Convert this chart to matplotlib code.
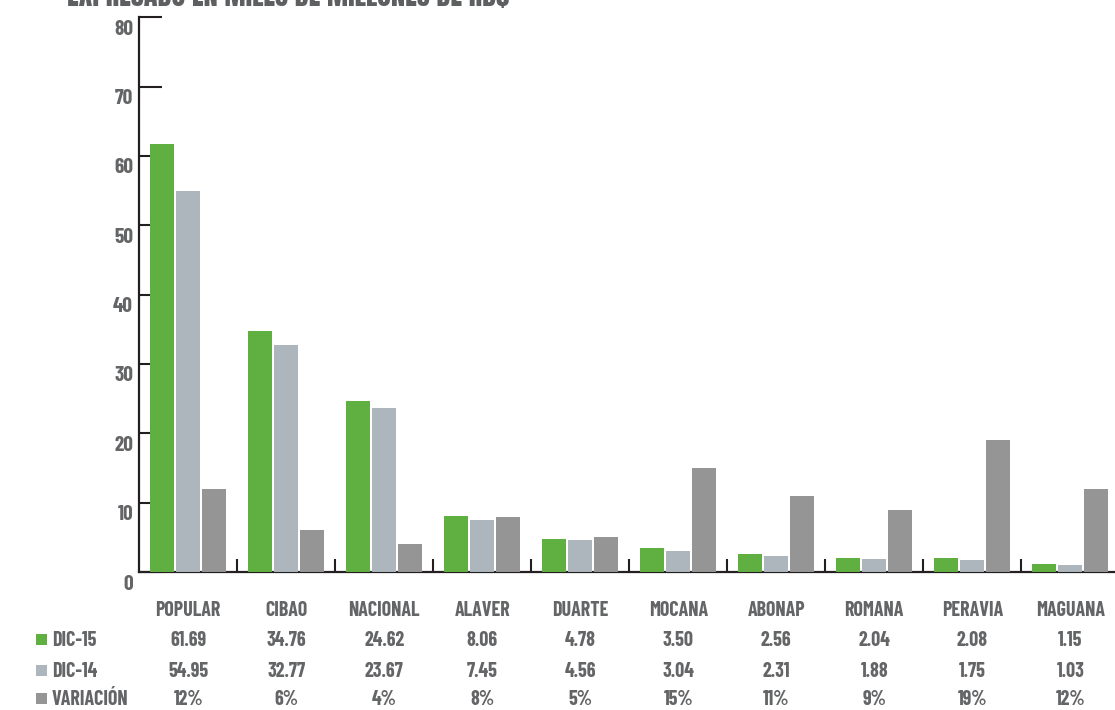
import matplotlib
matplotlib.use("Agg")
import matplotlib.pyplot as plt
import matplotlib.transforms as mtransforms
from matplotlib.patches import Rectangle
import numpy as np

LABEL_FONT = ['Barlow Condensed', 'Bebas Neue', 'DejaVu Sans']
plt.rcParams['font.family'] = LABEL_FONT
plt.rcParams['font.weight'] = 'bold'

# ---- data ----
categories = ["POPULAR", "CIBAO", "NACIONAL", "ALAVER", "DUARTE",
              "MOCANA", "ABONAP", "ROMANA", "PERAVIA", "MAGUANA"]
dic15 = [61.69, 34.76, 24.62, 8.06, 4.78, 3.50, 2.56, 2.04, 2.08, 1.15]
dic14 = [54.95, 32.77, 23.67, 7.45, 4.56, 3.04, 2.31, 1.88, 1.75, 1.03]
variacion = [12, 6, 4, 8, 5, 15, 11, 9, 19, 12]
series_names = ["DIC-15", "DIC-14", "VARIACIÓN"]
title = "EXPRESADO EN MILES DE MILLONES DE RD$"
yticks = [0, 10, 20, 30, 40, 50, 60, 70, 80]

# ---- style ----
GREEN = "#5FAF41"
LIGHT = "#AEB6BD"
DARK = "#959595"
TEXT = "#646567"
AXIS = "#231F20"

W, H = 1115, 710
fig = plt.figure(figsize=(W / 100, H / 100), dpi=100)

def px_x(x):
    return x / W

def px_y(y):
    return (H - y) / H

ax_left, ax_right, ax_top, ax_bottom = 139.3, 1119.3, 17.3, 572.0
ax = fig.add_axes([px_x(ax_left), px_y(ax_bottom),
                   (ax_right - ax_left) / W, (ax_bottom - ax_top) / H])

x = np.arange(len(categories))
bw = 0.245
step = 0.265
colors = [GREEN, LIGHT, DARK]
for i, (vals, c) in enumerate(zip([dic15, dic14, variacion], colors)):
    ax.bar(x + (i - 1) * step, vals, width=bw, color=c, zorder=3, linewidth=0)

ax.set_xlim(-0.5, len(categories) - 0.5)
ax.set_ylim(0, 80)

for s in ["top", "right"]:
    ax.spines[s].set_visible(False)
for s in ["left", "bottom"]:
    ax.spines[s].set_color(AXIS)
    ax.spines[s].set_linewidth(1.6)

ax.set_yticks(yticks)
ax.tick_params(axis="y", direction="in", length=16.5, width=1.5, color=AXIS,
               labelsize=15.4, labelcolor=TEXT, pad=4.5)
for lab in ax.get_yticklabels():
    lab.set_transform(lab.get_transform() +
                      mtransforms.ScaledTranslation(0, -10 / 100, fig.dpi_scale_trans))

ax.set_xticks(x[:-1] + 0.5)
ax.tick_params(axis="x", direction="in", length=9.5, width=1.5, color=AXIS,
               labelbottom=False)

# thin grey baseline beneath the bars
ax.axhline(0, color="#777777", linewidth=0.8, zorder=4)

# ---- title (runs off the top edge) ----
fig.text(px_x(67), px_y(6), title, fontsize=20.3, color="#5E5F61",
         ha="left", va="baseline", family=['Anton', 'Bebas Neue', 'DejaVu Sans'],
         fontweight='normal')

# ---- data table ----
trans = mtransforms.blended_transform_factory(ax.transData, fig.transFigure)
fs = 14.4
for xi, name in zip(x, categories):
    ax.text(xi, px_y(616), name, transform=trans, ha="center", va="baseline",
            fontsize=fs, color=TEXT, clip_on=False)

rows_y = [646, 677, 705]
row_vals = [[f"{v:.2f}" for v in dic15],
            [f"{v:.2f}" for v in dic14],
            [f"{v}%" for v in variacion]]
for ry, name, vals, c in zip(rows_y, series_names, row_vals, colors):
    fig.add_artist(Rectangle((px_x(36), px_y(ry - 1)), 11 / W, 11 / H,
                             transform=fig.transFigure, color=c, linewidth=0))
    fig.text(px_x(52), px_y(ry), name, ha="left", va="baseline",
             fontsize=fs, color=TEXT)
    for xi, v in zip(x, vals):
        ax.text(xi, px_y(ry), v, transform=trans, ha="center", va="baseline",
                fontsize=fs, color=TEXT, clip_on=False)

fig.savefig("out.png", dpi=100)
